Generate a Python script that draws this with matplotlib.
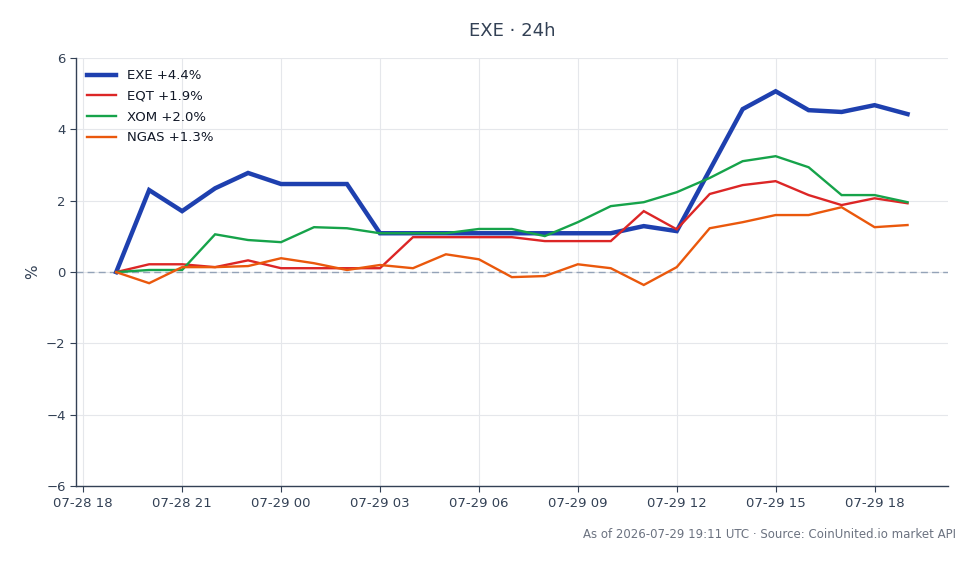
import matplotlib
matplotlib.use("Agg")
import matplotlib.pyplot as plt
import matplotlib.dates as mdates
import numpy as np
import pandas as pd

# hourly % change since 07-28 19:00 UTC
times = pd.date_range("2026-07-28 19:00", "2026-07-29 19:00", freq="h")

exe = [0.0, 2.30, 1.71, 2.35, 2.78, 2.47, 2.47, 2.47, 1.09, 1.09, 1.09, 1.09, 1.09,
       1.09, 1.09, 1.09, 1.29, 1.15, 2.86, 4.57, 5.07, 4.54, 4.49, 4.68, 4.43]
eqt = [0.0, 0.22, 0.22, 0.14, 0.33, 0.11, 0.11, 0.11, 0.11, 0.98, 0.98, 0.98, 0.98,
       0.87, 0.87, 0.87, 1.71, 1.20, 2.19, 2.44, 2.55, 2.16, 1.88, 2.07, 1.93]
xom = [0.0, 0.06, 0.06, 1.06, 0.90, 0.84, 1.26, 1.23, 1.09, 1.09, 1.09, 1.21, 1.21,
       1.01, 1.40, 1.85, 1.96, 2.24, 2.64, 3.11, 3.25, 2.94, 2.16, 2.16, 1.96]
ngas = [0.0, -0.31, 0.14, 0.14, 0.17, 0.39, 0.25, 0.06, 0.20, 0.11, 0.50, 0.36, -0.14,
        -0.11, 0.22, 0.11, -0.36, 0.14, 1.23, 1.40, 1.60, 1.60, 1.82, 1.26, 1.32]

labels = ["EXE +4.4%", "EQT +1.9%", "XOM +2.0%", "NGAS +1.3%"]
colors = ["#1e40af", "#dc2626", "#16a34a", "#ea580c"]
widths = [3.2, 1.7, 1.7, 1.7]

text_col = "#334155"

fig = plt.figure(figsize=(9.8, 5.64), dpi=100)
ax = fig.add_axes([0.0776, 0.138, 0.8894, 0.759])

for series, lab, col, lw in zip([exe, eqt, xom, ngas], labels, colors, widths):
    ax.plot(times, series, color=col, lw=lw, label=lab, solid_joinstyle="miter", zorder=2)

ax.axhline(0, color="#94a3b8", lw=1, ls=(0, (5, 3)), zorder=1.5)

x0 = pd.Timestamp("2026-07-28 18:00") - pd.Timedelta(minutes=13)
x1 = pd.Timestamp("2026-07-29 19:00") + pd.Timedelta(minutes=73)
ax.set_xlim(x0, x1)
ax.set_ylim(-6, 6)
ax.set_yticks([-6, -4, -2, 0, 2, 4, 6])
ax.xaxis.set_major_locator(mdates.HourLocator(byhour=range(0, 24, 3)))
ax.xaxis.set_major_formatter(mdates.DateFormatter("%m-%d %H"))

ax.grid(True, color="#e5e7eb", lw=0.8)
ax.set_axisbelow(True)
for s in ["top", "right"]:
    ax.spines[s].set_visible(False)
for s in ["left", "bottom"]:
    ax.spines[s].set_color("#334155")
    ax.spines[s].set_linewidth(1.0)
ax.tick_params(colors=text_col, labelsize=9.5, length=4)

ax.set_ylabel("%", color=text_col, fontsize=11)
ax.set_title("EXE · 24h", color=text_col, fontsize=13, pad=16)

leg = ax.legend(loc="upper left", frameon=False, fontsize=9.5, handlelength=2.2,
                borderaxespad=0.45, labelspacing=0.58)
for t in leg.get_texts():
    t.set_color("#111827")

fig.text(0.976, 0.053, "As of 2026-07-29 19:11 UTC · Source: CoinUnited.io market API",
         ha="right", va="center", fontsize=8.5, color="#6b7280")

fig.savefig("out.png", dpi=100, facecolor="white")
